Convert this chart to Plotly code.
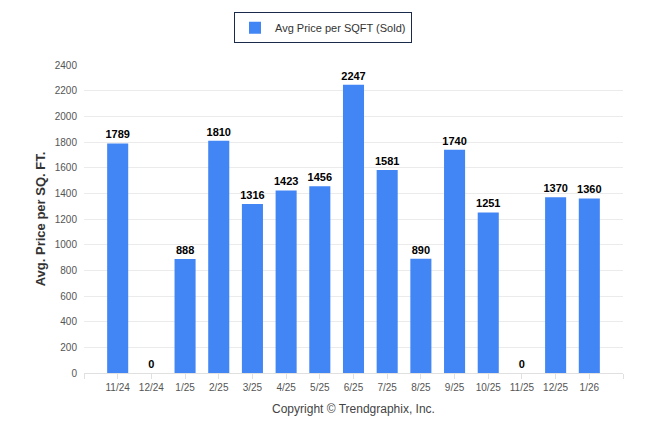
import plotly.graph_objects as go

categories = ["11/24", "12/24", "1/25", "2/25", "3/25", "4/25", "5/25", "6/25",
              "7/25", "8/25", "9/25", "10/25", "11/25", "12/25", "1/26"]
values = [1789, 0, 888, 1810, 1316, 1423, 1456, 2247, 1581, 890, 1740, 1251, 0, 1370, 1360]
y_ticks = list(range(0, 2401, 200))

idx = list(range(len(categories)))
x_tickvals = [-1] + idx + [len(categories)]
x_ticktext = [""] + categories + [""]

fig = go.Figure()
fig.add_trace(go.Bar(
    x=idx, y=values, name="Avg Price per SQFT (Sold)",
    marker=dict(color="#4285F4", line=dict(width=0)),
    text=[str(v) for v in values], textposition="outside",
    textfont=dict(family="Liberation Sans, Arial", size=11, color="#000000"),
    texttemplate="<b>%{text}</b>", cliponaxis=False, constraintext="none",
))

fig.update_layout(
    width=646, height=434,
    margin=dict(l=84, r=23, t=65, b=61, autoexpand=False),
    paper_bgcolor="white", plot_bgcolor="white",
    bargap=0.375,
    showlegend=True,
    legend=dict(
        orientation="h", xref="container", yref="container",
        x=0.5, xanchor="center", y=0.972, yanchor="top",
        bordercolor="#1a2a4a", borderwidth=1, bgcolor="white",
        font=dict(family="Liberation Sans, Arial", size=11, color="#333333"),
    ),
    font=dict(family="Liberation Sans, Arial", color="#555555"),
    xaxis=dict(
        range=[-1, len(categories)], tickmode="array", tickvals=x_tickvals, ticktext=x_ticktext,
        showgrid=False, zeroline=False, showline=True, linecolor="#e0e0e0", linewidth=1,
        ticks="outside", ticklen=5, tickcolor="#e0e0e0",
        tickangle=0, automargin=False,
        tickfont=dict(size=10, color="#555555"),
        title=dict(text="Copyright © Trendgraphix, Inc.", font=dict(size=12, color="#444444"), standoff=12),
    ),
    yaxis=dict(
        range=[0, 2400], tickvals=y_ticks, showgrid=True, gridcolor="#ebebeb", zeroline=False,
        showline=False, tickfont=dict(size=10, color="#555555"), ticks="", automargin=False,
        ticklabelstandoff=6,
        title=dict(text="<b>Avg. Price per SQ. FT.</b>", font=dict(size=13, color="#333333"), standoff=6),
    ),
)

fig.write_html("out.html", config={"displayModeBar": False},
               post_script="document.body.style.margin='0';")
